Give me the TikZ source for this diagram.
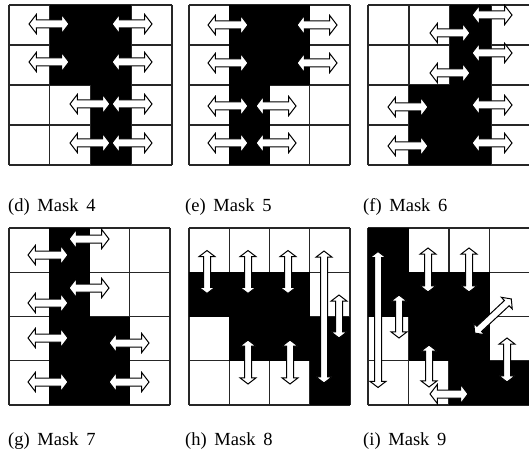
\documentclass[tikz,border=0pt]{standalone}
\usepackage{fontspec}
\setmainfont{Liberation Serif}
\usetikzlibrary{shapes.arrows}

\tikzset{
  cellline/.style={line width=1.1pt, black!85},
  hollow/.style={shape=double arrow, draw=black, fill=white, line width=1pt, inner xsep=0pt},
  harrow/.style={hollow, inner ysep=3.5pt, double arrow head extend=5.5pt, double arrow tip angle=105, minimum height=40pt},
  varrow/.style={hollow, rotate=90, inner ysep=3pt, double arrow head extend=4.5pt, double arrow tip angle=105},
  masklabel/.style={anchor=base west, inner sep=0pt, font=\fontsize{18.5}{20}\selectfont}
}

\begin{document}
\begin{tikzpicture}[x=1pt,y=-1pt]
\useasboundingbox (0,0) rectangle (529,457);
\clip (0,0) rectangle (529,457);
\foreach \x/\y/\w/\h in {9/5/40.75/40, 189/5/40.25/40, 368/5/41/40, 9/228/40.25/44.25, 189/228/40.25/44.25, 368/228/40.5/44.25} {
  \foreach \k in {0,...,4} {
    \draw[cellline] (\x+\k*\w,\y) -- ++(0,4*\h);
    \draw[cellline] (\x,\y+\k*\h) -- ++(4*\w,0);
  }
}
\fill[black] (49.75,5) rectangle (131.25,85);
\fill[black] (90.5,85) rectangle (131.25,165);
\node[harrow] (d1) at (49,24) {};
\node[harrow] (d2) at (132,24) {};
\node[harrow] (d3) at (49,62) {};
\node[harrow] (d4) at (132,62) {};
\node[harrow] (d5) at (90,104) {};
\node[harrow] (d6) at (132,104) {};
\node[harrow] (d7) at (90,143) {};
\node[harrow] (d8) at (132,143) {};
\node[masklabel] (capd) at (8,211) {(d)~\,Mask~\,4};
\fill[black] (229.25,5) rectangle (309.75,85);
\fill[black] (229.25,85) rectangle (269.5,165);
\node[harrow] (e1) at (228,25) {};
\node[harrow] (e2) at (317,25) {};
\node[harrow] (e3) at (228,63) {};
\node[harrow] (e4) at (317,63) {};
\node[harrow] (e5) at (228,106) {};
\node[harrow] (e6) at (276,106) {};
\node[harrow] (e7) at (228,143) {};
\node[harrow] (e8) at (276,143) {};
\node[masklabel] (cape) at (185,211) {(e)~\,Mask~\,5};
\fill[black] (450,5) rectangle (491,85);
\fill[black] (409,85) rectangle (491,165);
\node[harrow] (f1) at (492,15) {};
\node[harrow] (f2) at (450,33) {};
\node[harrow] (f3) at (492,53) {};
\node[harrow] (f4) at (450,73) {};
\node[harrow] (f5) at (408,107) {};
\node[harrow] (f6) at (492,105) {};
\node[harrow] (f7) at (408,146) {};
\node[harrow] (f8) at (492,143) {};
\node[masklabel] (capf) at (363,211) {(f)~\,Mask~\,6};
\fill[black] (49.25,228) rectangle (89.5,316.5);
\fill[black] (49.25,316.5) rectangle (129.75,405);
\node[harrow] (g1) at (48,255) {};
\node[harrow] (g2) at (89,239) {};
\node[harrow] (g3) at (89,288) {};
\node[harrow] (g4) at (48,303) {};
\node[harrow] (g5) at (48,338) {};
\node[harrow] (g6) at (129,343) {};
\node[harrow] (g7) at (48,382) {};
\node[harrow] (g8) at (129,382) {};
\node[masklabel] (capg) at (8,445) {(g)~\,Mask~\,7};
\fill[black] (189,272.25) rectangle (309.75,316.5);
\fill[black] (229.25,316.5) rectangle (350,360.75);
\fill[black] (309.75,360.75) rectangle (350,405);
\node[varrow, minimum height=43pt] (h1) at (207,272) {};
\node[varrow, minimum height=43pt] (h2) at (248,272) {};
\node[varrow, minimum height=43pt] (h3) at (288,272) {};
\node[varrow, minimum height=44pt] (h4) at (248,362) {};
\node[varrow, minimum height=44pt] (h5) at (290,362) {};
\node[varrow, minimum height=132pt] (h6) at (324,317) {};
\node[varrow, minimum height=43pt] (h7) at (339,316.5) {};
\node[masklabel] (caph) at (185,445) {(h)~\,Mask~\,8};
\fill[black] (368,228) rectangle (408.5,316.5);
\fill[black] (408.5,272.25) rectangle (489.5,360.75);
\fill[black] (449,360.75) rectangle (530,405);
\node[varrow, minimum height=136pt] (i1) at (378,319.5) {};
\node[varrow, minimum height=43pt] (i2) at (399,316.5) {};
\node[varrow, minimum height=44pt] (i3) at (428,270) {};
\node[varrow, minimum height=44pt] (i4) at (469,270) {};
\node[varrow, minimum height=42pt] (i5) at (429,366) {};
\node[harrow, minimum height=38pt] (i6) at (449,394) {};
\node[varrow, rotate=-47, minimum height=50pt] (i7) at (493,316) {};
\node[varrow, minimum height=44pt] (i8) at (507,360) {};
\node[masklabel] (capi) at (363,445) {(i)~\,Mask~\,9};
\end{tikzpicture}
\end{document}
